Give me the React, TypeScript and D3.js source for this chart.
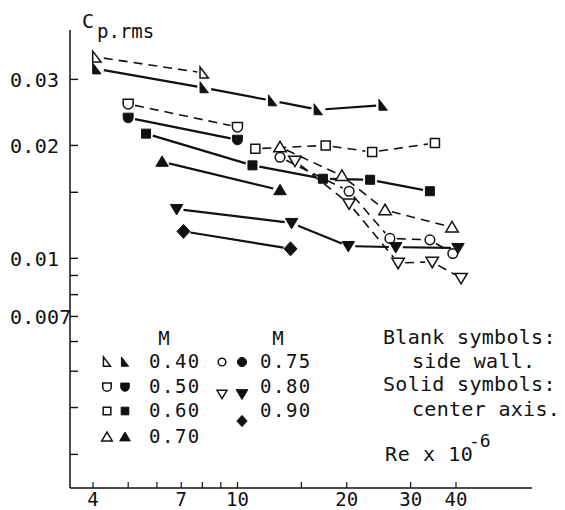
import React from 'react';
import * as d3 from 'd3';

// ---- axis ticks ----
const reTicks = [4, 5, 6, 7, 8, 9, 10, 15, 20, 30, 40];
const reTickLabels = [4, 7, 10, 20, 30, 40];
const cpTicks = [0.03, 0.02, 0.015, 0.01, 0.009, 0.008, 0.007, 0.006, 0.005, 0.004, 0.003];
const cpTickLabels = [0.03, 0.02, 0.01, 0.007];
const cpTickLabelText = ['0.03', '0.02', '0.01', '0.007'];

// ---- data (Re x 10^-6, Cp.rms) ; wall = blank symbols (side wall), axis = solid symbols (center axis)
const re_M040_wall = [4.1, 8.1];
const cp_M040_wall = [0.0344, 0.0312];
const re_M040_axis = [4.1, 8.1, 12.5, 16.7, 25.2];
const cp_M040_axis = [0.032, 0.0285, 0.0263, 0.0249, 0.0256];

const re_M050_wall = [5.0, 10.0];
const cp_M050_wall = [0.0258, 0.0224];
const re_M050_axis = [5.0, 10.0];
const cp_M050_axis = [0.0237, 0.0207];

const re_M060_wall = [11.2, 17.5, 23.5, 35.0];
const cp_M060_wall = [0.0196, 0.02, 0.0192, 0.0203];
const re_M060_axis = [5.6, 11.0, 17.2, 23.2, 33.9];
const cp_M060_axis = [0.0215, 0.0177, 0.0163, 0.0162, 0.0151];

const re_M070_wall = [13.1, 19.4, 25.5, 39.0];
const cp_M070_wall = [0.0198, 0.0166, 0.01345, 0.0121];
const re_M070_axis = [6.2, 13.1];
const cp_M070_axis = [0.0181, 0.0152];

const re_M075_wall = [13.1, 20.3, 26.3, 33.9, 39.2];
const cp_M075_wall = [0.0186, 0.0151, 0.0113, 0.0112, 0.0103];

const re_M080_wall = [14.4, 20.3, 27.7, 34.4, 41.3];
const cp_M080_wall = [0.0182, 0.014, 0.00972, 0.00978, 0.00886];
const re_M080_axis = [6.8, 14.1, 20.2, 27.3, 40.5];
const cp_M080_axis = [0.01353, 0.01242, 0.01078, 0.01071, 0.01065];

const re_M090_axis = [7.1, 14.0];
const cp_M090_axis = [0.0118, 0.0106];

const legendCol1 = ['0.40', '0.50', '0.60', '0.70'];
const legendCol2 = ['0.75', '0.80', '0.90'];
const noteLines = ['Blank symbols:', 'side wall.', 'Solid symbols:', 'center axis.'];
const noteIndented = [false, true, false, true];

type Shape = 'rtri' | 'cup' | 'square' | 'triUp' | 'circle' | 'triDown' | 'diamond';
const shapeFor: Record<string, Shape> = {
  '0.40': 'rtri', '0.50': 'cup', '0.60': 'square', '0.70': 'triUp',
  '0.75': 'circle', '0.80': 'triDown', '0.90': 'diamond',
};

const series = [
  { m: '0.40', solid: false, re: re_M040_wall, cp: cp_M040_wall },
  { m: '0.40', solid: true, re: re_M040_axis, cp: cp_M040_axis },
  { m: '0.50', solid: false, re: re_M050_wall, cp: cp_M050_wall },
  { m: '0.50', solid: true, re: re_M050_axis, cp: cp_M050_axis },
  { m: '0.60', solid: false, re: re_M060_wall, cp: cp_M060_wall },
  { m: '0.60', solid: true, re: re_M060_axis, cp: cp_M060_axis },
  { m: '0.70', solid: false, re: re_M070_wall, cp: cp_M070_wall },
  { m: '0.70', solid: true, re: re_M070_axis, cp: cp_M070_axis },
  { m: '0.75', solid: false, re: re_M075_wall, cp: cp_M075_wall },
  { m: '0.80', solid: false, re: re_M080_wall, cp: cp_M080_wall },
  { m: '0.80', solid: true, re: re_M080_axis, cp: cp_M080_axis },
  { m: '0.90', solid: true, re: re_M090_axis, cp: cp_M090_axis },
];

function shapePath(shape: Shape, k: number): string {
  switch (shape) {
    case 'rtri':
      return `M${-4.2 * k},${-6 * k}L${-4.2 * k},${5 * k}L${4.2 * k},${5 * k}Z`;
    case 'cup':
      return `M${-5 * k},${-4.6 * k}H${5 * k}V0A${5 * k},${5 * k} 0 0 1 ${-5 * k},0Z`;
    case 'square':
      return `M${-4.5 * k},${-4.5 * k}h${9 * k}v${9 * k}h${-9 * k}Z`;
    case 'triUp':
      return `M0,${-5.8 * k}L${6.2 * k},${4.6 * k}L${-6.2 * k},${4.6 * k}Z`;
    case 'triDown':
      return `M0,${5.8 * k}L${6.2 * k},${-4.6 * k}L${-6.2 * k},${-4.6 * k}Z`;
    case 'diamond':
      return `M0,${-7 * k}L${6.5 * k},0L0,${7 * k}L${-6.5 * k},0Z`;
    case 'circle':
    default: {
      const r = 4.8 * k;
      return `M${r},0A${r},${r} 0 1 1 ${-r},0A${r},${r} 0 1 1 ${r},0Z`;
    }
  }
}

function Marker({ shape, solid, cx, cy, k = 1 }: { shape: Shape; solid: boolean; cx: number; cy: number; k?: number }) {
  return (
    <path
      d={shapePath(shape, k)}
      transform={`translate(${cx},${cy})`}
      fill={solid ? '#111' : '#fff'}
      stroke="#111"
      strokeWidth={solid ? 1 : 1.5}
    />
  );
}

export default function App() {
  const W = 565, H = 510;
  const x = d3.scaleLog().domain([4, 40]).range([93, 456]);
  const y = d3.scaleLog().domain([0.003, 0.03]).range([454.4, 79.4]);
  const axisX = 70, axisTop = 30, axisBottom = 488, axisRight = 532;
  const font = "'DejaVu Sans Mono', 'Liberation Mono', monospace";
  const gap = 7;

  const segments: JSX.Element[] = [];
  series.forEach((s, si) => {
    for (let i = 0; i < s.re.length - 1; i++) {
      const x1 = x(s.re[i]), y1 = y(s.cp[i]);
      const x2 = x(s.re[i + 1]), y2 = y(s.cp[i + 1]);
      const len = Math.hypot(x2 - x1, y2 - y1);
      if (len <= 2 * gap + 2) continue;
      const ux = (x2 - x1) / len, uy = (y2 - y1) / len;
      segments.push(
        <line
          key={`seg-${si}-${i}`}
          x1={x1 + ux * gap}
          y1={y1 + uy * gap}
          x2={x2 - ux * gap}
          y2={y2 - uy * gap}
          stroke="#111"
          strokeWidth={s.solid ? 2.2 : 1.6}
          strokeDasharray={s.solid ? undefined : '9,6'}
        />
      );
    }
  });

  const col1Base = [368, 393, 417, 443];
  const col2Base = [368, 393, 417];
  const col2SymY = [362, 394, 421];
  const noteBase = [344, 368, 391, 416];

  return (
    <svg
      width={W}
      height={H}
      viewBox={`0 0 ${W} ${H}`}
      style={{ position: 'absolute', left: 0, top: 0, background: '#fff' }}
      fontFamily={font}
    >
      <rect x={0} y={0} width={W} height={H} fill="#fff" />

      {/* axes */}
      <line x1={axisX} y1={axisTop} x2={axisX} y2={axisBottom} stroke="#111" strokeWidth={1.5} />
      <line x1={axisX} y1={axisBottom} x2={axisRight} y2={axisBottom} stroke="#111" strokeWidth={1.5} />

      {cpTicks.map((v) => (
        <line key={`yt-${v}`} x1={axisX} x2={axisX + 8} y1={y(v)} y2={y(v)} stroke="#111" strokeWidth={1.4} />
      ))}
      {cpTickLabels.map((v, i) => (
        <text key={`yl-${v}`} x={10} y={y(v)} dy="0.36em" fontSize={20} fill="#111" letterSpacing={0.3}>
          {cpTickLabelText[i]}
        </text>
      ))}

      {reTicks.map((v) => (
        <line key={`xt-${v}`} x1={x(v)} x2={x(v)} y1={axisBottom} y2={axisBottom - 6} stroke="#111" strokeWidth={1.2} />
      ))}
      {reTickLabels.map((v) => (
        <text key={`xl-${v}`} x={x(v)} y={506} textAnchor="middle" fontSize={19} fill="#111">
          {String(v)}
        </text>
      ))}

      {/* y title */}
      <text x={82} y={28} fontSize={20} fill="#111">C</text>
      <text x={97} y={38} fontSize={19} fill="#111">p.rms</text>

      {/* lines */}
      {segments}

      {/* markers */}
      {series.map((s, si) =>
        s.re.map((r, i) => (
          <Marker key={`mk-${si}-${i}`} shape={shapeFor[s.m]} solid={s.solid} cx={x(r)} cy={y(s.cp[i])} />
        ))
      )}

      {/* legend */}
      <text x={164} y={345} textAnchor="middle" fontSize={19} fill="#111">M</text>
      <text x={278} y={345} textAnchor="middle" fontSize={19} fill="#111">M</text>
      {legendCol1.map((m, i) => (
        <g key={`lg1-${m}`}>
          <Marker shape={shapeFor[m]} solid={false} cx={107} cy={col1Base[i] - 6} k={0.85} />
          <Marker shape={shapeFor[m]} solid={true} cx={125} cy={col1Base[i] - 6} k={0.85} />
          <text x={149} y={col1Base[i]} fontSize={19} letterSpacing={1.5} fill="#111">{m}</text>
        </g>
      ))}
      {legendCol2.map((m, i) => (
        <g key={`lg2-${m}`}>
          {m !== '0.90' && <Marker shape={shapeFor[m]} solid={false} cx={222} cy={col2SymY[i]} k={0.8} />}
          <Marker shape={shapeFor[m]} solid={true} cx={242} cy={col2SymY[i]} k={m === '0.90' ? 0.8 : 0.95} />
          <text x={260} y={col2Base[i]} fontSize={19} letterSpacing={1.5} fill="#111">{m}</text>
        </g>
      ))}

      {/* notes */}
      {noteLines.map((t, i) => (
        <text
          key={`nt-${i}`}
          x={noteIndented[i] ? 412 : 383}
          y={noteBase[i]}
          fontSize={20}
          letterSpacing={0.3}
          fill="#111"
        >
          {t}
        </text>
      ))}
      <text x={385} y={461} fontSize={20} letterSpacing={0.6} fill="#111">
        Re x 10
      </text>
      <text x={469} y={447} fontSize={18} fill="#111">-6</text>
    </svg>
  );
}
